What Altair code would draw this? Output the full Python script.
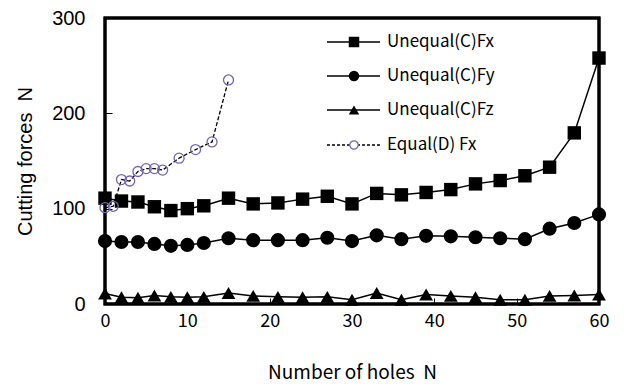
import altair as alt
import pandas as pd

# Unequal (C) series
x_c = [0, 2, 4, 6, 8, 10, 12, 15, 18, 21, 24, 27, 30, 33, 36, 39, 42, 45, 48, 51, 54, 57, 60]
fx_c = [111, 108, 107, 102, 98, 100, 103, 111, 105, 106, 110, 113, 105, 116, 114.5, 117, 120, 126, 129.5, 134.5, 143.5, 179.5, 258]
fy_c = [66, 65, 65, 63, 61, 62, 64, 69, 67, 67, 67, 69.5, 66, 72, 68, 71.5, 71, 70, 69, 68, 79, 85, 94]
fz_c = [11, 7, 6.5, 9, 7.5, 7, 7.5, 11.5, 8.5, 7.5, 7, 7.5, 4.5, 11.5, 4.5, 10, 8.5, 7, 4.5, 4.5, 8.5, 9, 10]

# Equal (D) series
x_d = [0, 1, 2, 3, 4, 5, 6, 7, 9, 11, 13, 15]
fx_d = [101, 102.5, 130.5, 129, 139, 142, 142, 140.5, 153, 162, 170, 235]

legend_labels = ["Unequal(C)Fx", "Unequal(C)Fy", "Unequal(C)Fz", "Equal(D) Fx"]
x_ticks = [0, 10, 20, 30, 40, 50, 60]
y_ticks = [0, 100, 200, 300]
x_range = [0, 60]
y_range = [0, 300]

TOP = 10
W, H = 494, 286
purple = "#7565b0"
FONT = "Noto Sans CJK JP"
NB = "\u00a0"

xs = alt.Scale(domain=x_range, nice=False, zero=False)
ys = alt.Scale(domain=y_range, nice=False)

def df(xv, yv):
    return pd.DataFrame({"x": xv, "y": yv})

# axes pulled inside the frame (negative offset) so their ticks point inward
X = alt.X("x:Q", scale=xs, axis=alt.Axis(values=x_ticks, title="Number of holes" + NB + NB + "N",
                                           offset=-6, ticks=True, tickSize=6, tickColor="black", tickWidth=1,
                                           labelFont=FONT, labelFontSize=18, labelPadding=8,
                                           titleFont=FONT, titleFontSize=19, titlePadding=33,
                                           titleFontWeight="normal", labelColor="#000", titleColor="#000",
                                           domain=False, grid=False, labelFlush=False))
Y = alt.Y("y:Q", scale=ys, axis=alt.Axis(values=y_ticks, title="Cutting forces" + NB + NB + "N",
                                           offset=-7, ticks=True, tickSize=7, tickColor="black", tickWidth=1,
                                           labelFont="Liberation Sans", labelFontSize=20, labelPadding=20,
                                           titleFont="Liberation Sans", titleFontSize=20, titlePadding=16,
                                           titleFontWeight="normal", labelColor="#000", titleColor="#000",
                                           domain=False, grid=False, labelFlush=False))

def series(xv, yv, shape, size, filled=True, dash=None, color="black", stroke="black"):
    d = df(xv, yv)
    line_kw = dict(color="black", strokeWidth=1.5)
    if dash:
        line_kw["strokeDash"] = dash
        line_kw["strokeWidth"] = 1.3
    ln = alt.Chart(d).mark_line(**line_kw).encode(x=X, y=Y)
    if filled:
        pt = alt.Chart(d).mark_point(shape=shape, size=size, filled=True, color=color, opacity=1).encode(x=X, y=Y)
    else:
        pt = alt.Chart(d).mark_point(shape=shape, size=size, filled=False, color=stroke, strokeWidth=1.3,
                                     opacity=1).encode(x=X, y=Y)
    return [ln, pt]

layers = []

# frame drawn through the scales
frame = pd.DataFrame({"x0": [x_range[0]], "x1": [x_range[1]], "y0": [y_range[0]], "y1": [y_range[1]]})
layers.append(alt.Chart(frame).mark_rect(filled=False, stroke="black", strokeWidth=3, fillOpacity=0).encode(
    x=alt.X("x0:Q", scale=xs), x2="x1:Q", y=alt.Y("y0:Q", scale=ys), y2="y1:Q"))

layers += series(x_c, fx_c, "square", 180)
layers += series(x_c, fy_c, "circle", 200)
layers += series(x_c, fz_c, "triangle-up", 190)
layers += series(x_d, fx_d, "circle", 100, filled=False, dash=[4, 2], stroke=purple)

# manual legend
rows_y = [28 - (TOP - 6), 62 - (TOP - 6), 96 - (TOP - 6), 131 - (TOP - 6)]
shapes = [("square", 110, True), ("circle", 110, True), ("triangle-up", 110, True), ("circle", 70, False)]
for i, lab in enumerate(legend_labels):
    one = pd.DataFrame({"label": [lab]})
    ly = rows_y[i]
    rk = dict(color="black", strokeWidth=1.3)
    if i == 3:
        rk["strokeDash"] = [3, 2]
    layers.append(alt.Chart(one).mark_rule(**rk).encode(
        x=alt.value(222), x2=alt.value(275), y=alt.value(ly)))
    shp, sz, fl = shapes[i]
    if fl:
        layers.append(alt.Chart(one).mark_point(shape=shp, size=sz, filled=True, color="black", opacity=1).encode(
            x=alt.value(249), y=alt.value(ly)))
    else:
        layers.append(alt.Chart(one).mark_point(shape=shp, size=sz, filled=True, color="white", opacity=1).encode(
            x=alt.value(249), y=alt.value(ly)))
        layers.append(alt.Chart(one).mark_point(shape=shp, size=sz, filled=False, color=purple,
                                                strokeWidth=1.2, opacity=1).encode(
            x=alt.value(249), y=alt.value(ly)))
    layers.append(alt.Chart(one).mark_text(align="left", baseline="middle", font=FONT, fontSize=17,
                                           color="black").encode(
        x=alt.value(282), y=alt.value(ly), text="label:N"))

chart = alt.layer(*layers).properties(
    width=W, height=H,
    autosize=alt.AutoSizeParams(type="none"),
    padding={"left": 97, "top": TOP, "right": 17, "bottom": 90},
).configure_view(stroke="black", strokeWidth=3)

chart.save("out.html", embed_options={"renderer": "svg", "actions": False})
